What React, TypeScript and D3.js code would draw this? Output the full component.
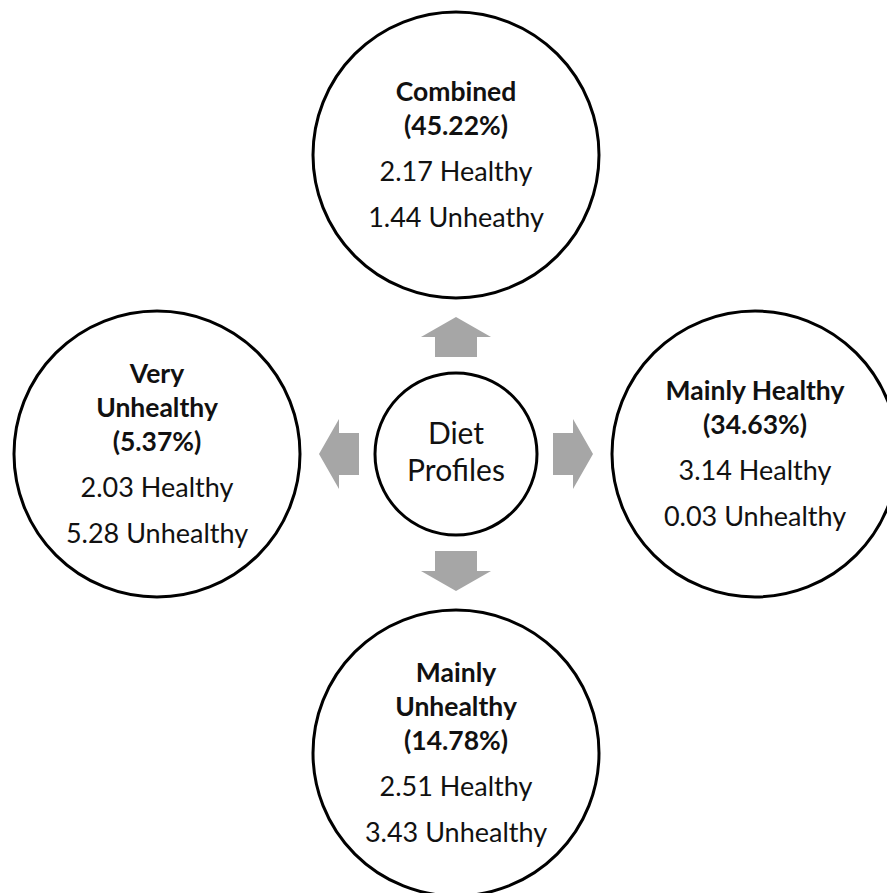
import { useMemo } from 'react';
import * as d3 from 'd3';

// diet profile clusters
const profileNames = ['Combined', 'Mainly Healthy', 'Mainly Unhealthy', 'Very Unhealthy'];
const profileShares = ['45.22%', '34.63%', '14.78%', '5.37%'];
const healthyScores = ['2.17', '3.14', '2.51', '2.03'];
const unhealthyScores = ['1.44', '0.03', '3.43', '5.28'];
const unhealthyLabels = ['Unheathy', 'Unhealthy', 'Unhealthy', 'Unhealthy'];
// how each title wraps inside its circle
const titleLines = [['Combined'], ['Mainly Healthy'], ['Mainly', 'Unhealthy'], ['Very', 'Unhealthy']];
const centerLabel = ['Diet', 'Profiles'];

// directions: up, right, down, left
const directions = ['up', 'right', 'down', 'left'];

const W = 887;
const H = 893;
const FONT = 'Lato, Carlito, Calibri, sans-serif';

const App = () => {
  const cx = 456;
  const cy = 454;
  const ring = 299;
  const outerR = 143;
  const innerR = 81;

  // angle per direction (0 = up, clockwise)
  const angle = d3.scalePoint<string>().domain([...directions, 'end']).range([0, 360]);

  const nodes = useMemo(() => profileNames.map((name, i) => {
    const a = (angle(directions[i]) as number) * Math.PI / 180;
    const lines: { text: string; bold: boolean }[] = [
      ...titleLines[i].map(t => ({ text: t, bold: true })),
      { text: `(${profileShares[i]})`, bold: true },
      { text: `${healthyScores[i]} Healthy`, bold: false },
      { text: `${unhealthyScores[i]} ${unhealthyLabels[i]}`, bold: false },
    ];
    // baseline offsets: bold lines 34 apart, then 46 for value rows
    const offs: number[] = [];
    let y = 0;
    lines.forEach((l, j) => {
      if (j > 0) y += l.bold ? 34 : 46;
      offs.push(y);
    });
    const shift = (offs[offs.length - 1] + 17) / 2;
    return {
      name,
      x: cx + ring * Math.sin(a),
      y: cy - ring * Math.cos(a),
      lines: lines.map((l, j) => ({ ...l, dy: offs[j] - shift + 17 })),
    };
  }), []);

  // block arrow pointing up, from r=97 to r=137
  const arrowPath = useMemo(() => {
    const p = d3.path();
    const r0 = 97, r1 = 137, head = 20, hw = 35, sw = 21;
    p.moveTo(-sw, -r0);
    p.lineTo(-sw, -(r1 - head));
    p.lineTo(-hw, -(r1 - head));
    p.lineTo(0, -r1);
    p.lineTo(hw, -(r1 - head));
    p.lineTo(sw, -(r1 - head));
    p.lineTo(sw, -r0);
    p.closePath();
    return p.toString();
  }, []);

  return (
    <svg width={W} height={H} style={{ position: 'absolute', left: 0, top: 0, background: '#fff' }}>
      <g transform={`translate(${cx},${cy})`}>
        {directions.map(d => (
          <path key={d} d={arrowPath} fill="#a6a6a6" transform={`rotate(${angle(d)})`} />
        ))}
        <circle r={innerR} fill="#fff" stroke="#000" strokeWidth={3} />
        {centerLabel.map((t, i) => (
          <text key={t} x={0} y={-10 + i * 37} textAnchor="middle" fontFamily={FONT}
            fontSize={30} fill="#111">{t}</text>
        ))}
      </g>
      {nodes.map(n => (
        <g key={n.name} transform={`translate(${n.x},${n.y})`}>
          <circle r={outerR} fill="#fff" stroke="#000" strokeWidth={3} />
          {n.lines.map((l, j) => (
            <text key={j} x={0} y={l.dy} textAnchor="middle" fontFamily={FONT}
              fontWeight={l.bold ? 700 : 400} fontSize={l.bold ? 26.5 : 27} fill="#111">
              {l.text}
            </text>
          ))}
        </g>
      ))}
    </svg>
  );
};

export default App;
